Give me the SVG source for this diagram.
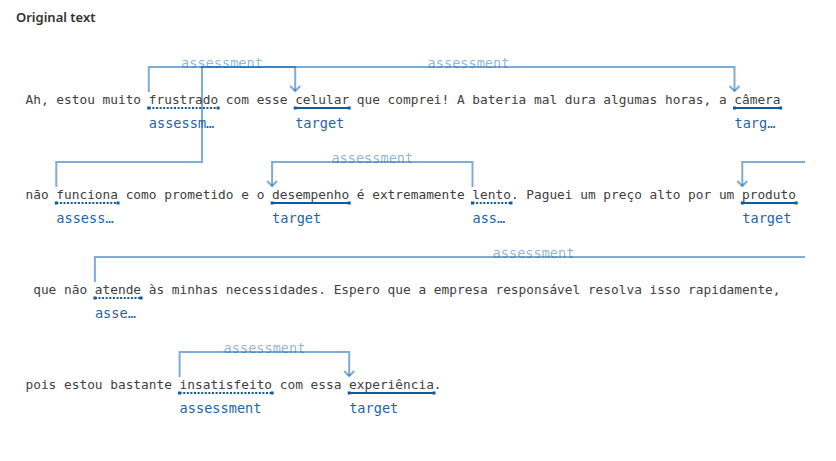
<svg xmlns="http://www.w3.org/2000/svg" width="836" height="461" viewBox="0 0 836 461">
<style>
.title{font-family:"Segoe UI","Noto Sans","Liberation Sans",sans-serif;font-weight:600;font-size:13px;fill:#323130}
.txt{font-family:"DejaVu Sans Mono","Liberation Mono",monospace;font-size:12.8px;fill:#404040}
.lab{font-family:"DejaVu Sans Mono","Liberation Mono",monospace;font-size:13.6px;fill:#1f64a5}
.alab{font-family:"DejaVu Sans Mono","Liberation Mono",monospace;font-size:13.6px;fill:#005aaa;fill-opacity:0.45;text-anchor:middle}
.con{fill:none;stroke:#005aaa;stroke-opacity:0.5;stroke-width:2}
.ua{stroke:#0f5a9e;stroke-width:2;stroke-dasharray:2 1.6}
.ut{stroke:#0f5a9e;stroke-width:2}
.cap{fill:#0f5a9e}
</style>
<defs>
<marker id="arr" markerUnits="userSpaceOnUse" markerWidth="14" markerHeight="14" viewBox="-7 -7 14 14" refX="0" refY="0" orient="auto" overflow="visible">
<path d="M-5,-5 L0,0 L-5,5" fill="none" stroke="#005aaa" stroke-opacity="0.5" stroke-width="2"/>
</marker>
</defs>
<rect width="836" height="461" fill="#ffffff"/>
<text class="title" x="16" y="22">Original text</text>

<g id="text-lines">
<text class="txt" x="25.5" y="104">Ah, estou muito frustrado com esse celular que comprei! A bateria mal dura algumas horas, a câmera</text>
<text class="txt" x="25.5" y="199">não funciona como prometido e o desempenho é extremamente lento. Paguei um preço alto por um produto</text>
<text class="txt" x="33.2" y="294">que não atende às minhas necessidades. Espero que a empresa responsável resolva isso rapidamente,</text>
<text class="txt" x="25.5" y="389">pois estou bastante insatisfeito com essa experiência.</text>
</g>

<g id="connectors">
<path class="con" d="M148.8,92 V67 H295.2 V91" marker-end="url(#arr)"/>
<path class="con" d="M56.3,187 V162 H202 V67 H734.5 V91" marker-end="url(#arr)"/>
<path class="con" d="M472.5,187 V162 H272.1 V186" marker-end="url(#arr)"/>
<path class="con" d="M805,162 H742.3 V186" marker-end="url(#arr)"/>
<path class="con" d="M94.9,282 V257 H805"/>
<path class="con" d="M179.6,377 V352 H349.2 V376" marker-end="url(#arr)"/>
<text class="alab" x="222" y="67.5">assessment</text>
<text class="alab" x="468.5" y="67.5">assessment</text>
<text class="alab" x="372.3" y="162.5">assessment</text>
<text class="alab" x="533.5" y="257.5">assessment</text>
<text class="alab" x="264.5" y="352.5">assessment</text>
</g>

<g id="n-frustrado">
<line class="ua" x1="148.8" y1="108" x2="218.1" y2="108"/>
<rect class="cap" x="147.3" y="106.5" width="3" height="3"/><rect class="cap" x="216.6" y="106.5" width="3" height="3"/>
<text class="lab" x="148.8" y="128">assessm…</text>
</g>
<g id="n-celular">
<line class="ut" x1="295.2" y1="108" x2="349.2" y2="108"/>
<rect class="cap" x="293.7" y="106.5" width="3" height="3"/><rect class="cap" x="347.7" y="106.5" width="3" height="3"/>
<text class="lab" x="295.2" y="128">target</text>
</g>
<g id="n-camera">
<line class="ut" x1="734.5" y1="108" x2="780.7" y2="108"/>
<rect class="cap" x="733" y="106.5" width="3" height="3"/><rect class="cap" x="779.2" y="106.5" width="3" height="3"/>
<text class="lab" x="734.5" y="128">targ…</text>
</g>
<g id="n-funciona">
<line class="ua" x1="56.3" y1="203" x2="118" y2="203"/>
<rect class="cap" x="54.8" y="201.5" width="3" height="3"/><rect class="cap" x="116.5" y="201.5" width="3" height="3"/>
<text class="lab" x="56.3" y="223">assess…</text>
</g>
<g id="n-desempenho">
<line class="ut" x1="272.1" y1="203" x2="349.2" y2="203"/>
<rect class="cap" x="270.6" y="201.5" width="3" height="3"/><rect class="cap" x="347.7" y="201.5" width="3" height="3"/>
<text class="lab" x="272.1" y="223">target</text>
</g>
<g id="n-lento">
<line class="ua" x1="472.5" y1="203" x2="511" y2="203"/>
<rect class="cap" x="471" y="201.5" width="3" height="3"/><rect class="cap" x="509.5" y="201.5" width="3" height="3"/>
<text class="lab" x="472.5" y="223">ass…</text>
</g>
<g id="n-produto">
<line class="ut" x1="742.3" y1="203" x2="796.2" y2="203"/>
<rect class="cap" x="740.8" y="201.5" width="3" height="3"/><rect class="cap" x="794.7" y="201.5" width="3" height="3"/>
<text class="lab" x="742.3" y="223">target</text>
</g>
<g id="n-atende">
<line class="ua" x1="94.9" y1="298" x2="141.1" y2="298"/>
<rect class="cap" x="93.4" y="296.5" width="3" height="3"/><rect class="cap" x="139.6" y="296.5" width="3" height="3"/>
<text class="lab" x="94.9" y="318">asse…</text>
</g>
<g id="n-insatisfeito">
<line class="ua" x1="179.6" y1="393" x2="272.1" y2="393"/>
<rect class="cap" x="178.1" y="391.5" width="3" height="3"/><rect class="cap" x="270.6" y="391.5" width="3" height="3"/>
<text class="lab" x="179.6" y="413">assessment</text>
</g>
<g id="n-experiencia">
<line class="ut" x1="349.2" y1="393" x2="434" y2="393"/>
<rect class="cap" x="347.7" y="391.5" width="3" height="3"/><rect class="cap" x="432.5" y="391.5" width="3" height="3"/>
<text class="lab" x="349.2" y="413">target</text>
</g>
</svg>
